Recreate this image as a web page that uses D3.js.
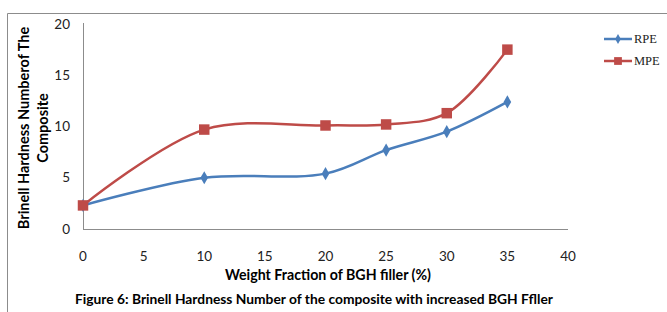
<!DOCTYPE html>
<html>
<head>
<meta charset="utf-8">
<script src="https://cdn.jsdelivr.net/npm/d3@7"></script>
<style>
  body { margin: 0; background: #fff; }
  svg { display: block; }
</style>
</head>
<body>
<div id="chart"></div>
<script>
const weights = [0, 10, 20, 25, 30, 35];
const rpe = [2.3, 5.0, 5.4, 7.7, 9.5, 12.4];
const mpe = [2.3, 9.7, 10.1, 10.2, 11.3, 17.5];
const xTicks = [0, 5, 10, 15, 20, 25, 30, 35, 40];
const yTicks = [0, 5, 10, 15, 20];

const width = 667, height = 312;
const svg = d3.select("#chart").append("svg")
  .attr("width", width).attr("height", height);

// frame
svg.append("path")
  .attr("d", `M7.5,${height} L7.5,13.5 L${width},13.5`)
  .attr("fill", "none").attr("stroke", "#8c8c8c").attr("stroke-width", 1);

const x = d3.scaleLinear().domain([0, 40]).range([83, 568]);
const y = d3.scaleLinear().domain([0, 20]).range([229, 24]);

const tickFont = "Lato, 'Open Sans', sans-serif";

// axes lines
svg.append("line")
  .attr("x1", x(0) + 0.5).attr("x2", x(0) + 0.5)
  .attr("y1", y(20) - 1).attr("y2", y(0))
  .attr("stroke", "#8c8c8c");
svg.append("line")
  .attr("x1", x(0)).attr("x2", x(40))
  .attr("y1", y(0) + 0.5).attr("y2", y(0) + 0.5)
  .attr("stroke", "#8c8c8c");

svg.append("g").selectAll("text").data(yTicks).enter().append("text")
  .attr("x", 70).attr("y", d => y(d))
  .attr("dy", "0.35em").attr("text-anchor", "end")
  .style("font-family", tickFont).style("font-size", "13.5px").style("fill", "#222")
  .text(d => d);

svg.append("g").selectAll("text").data(xTicks).enter().append("text")
  .attr("x", d => x(d)).attr("y", 256)
  .attr("dy", "0.35em").attr("text-anchor", "middle")
  .style("font-family", tickFont).style("font-size", "13.5px").style("fill", "#222")
  .text(d => d);

// axis titles
svg.append("text")
  .attr("x", 328).attr("y", 275).attr("dy", "0.35em")
  .attr("text-anchor", "middle")
  .style("font-family", tickFont).style("font-weight", "bold").style("font-size", "14.2px")
  .text("Weight Fraction of BGH filler (%)");

const yTitle = svg.append("text")
  .attr("transform", "translate(24,128) rotate(-90)")
  .attr("text-anchor", "middle")
  .style("font-family", tickFont).style("font-weight", "bold").style("font-size", "14.5px");
yTitle.append("tspan").attr("x", 0).attr("dy", "0.35em").text("Brinell Hardness Numberof The");
yTitle.append("tspan").attr("x", 0).attr("dy", "19").text("Composite");

svg.append("text")
  .attr("x", 75).attr("y", 299).attr("dy", "0.35em")
  .style("font-family", tickFont).style("font-weight", "bold").style("font-size", "13.8px")
  .text("Figure 6: Brinell Hardness Number of the composite with increased BGH Ffller");

// series
const series = [
  { name: "RPE", values: rpe, color: "#4a7ebb", shape: d3.symbolDiamond, size: 50 },
  { name: "MPE", values: mpe, color: "#be4b48", shape: d3.symbolSquare, size: 110 }
];

const line = d3.line()
  .x((d, i) => x(weights[i]))
  .y(d => y(d))
  .curve(d3.curveCatmullRom.alpha(0.5));

series.forEach(s => {
  svg.append("path")
    .datum(s.values)
    .attr("d", line)
    .attr("fill", "none").attr("stroke", s.color).attr("stroke-width", 2.5);
});

series.forEach(s => {
  svg.append("g").selectAll("path").data(s.values).enter().append("path")
    .attr("transform", (d, i) => `translate(${x(weights[i])},${y(d)})`)
    .attr("d", d3.symbol().type(s.shape).size(s.size))
    .attr("fill", s.color);
});

// legend
const legend = svg.append("g");
series.forEach((s, i) => {
  const ly = 39 + i * 22;
  legend.append("line")
    .attr("x1", 604).attr("x2", 632).attr("y1", ly).attr("y2", ly)
    .attr("stroke", s.color).attr("stroke-width", 2.5);
  legend.append("path")
    .attr("transform", `translate(618,${ly})`)
    .attr("d", d3.symbol().type(s.shape).size(s.size * 0.55))
    .attr("fill", s.color);
  legend.append("text")
    .attr("x", 634).attr("y", ly).attr("dy", "0.35em")
    .style("font-family", "'Liberation Serif', serif").style("font-size", "12.5px").style("fill", "#222")
    .text(s.name);
});
</script>
</body>
</html>
